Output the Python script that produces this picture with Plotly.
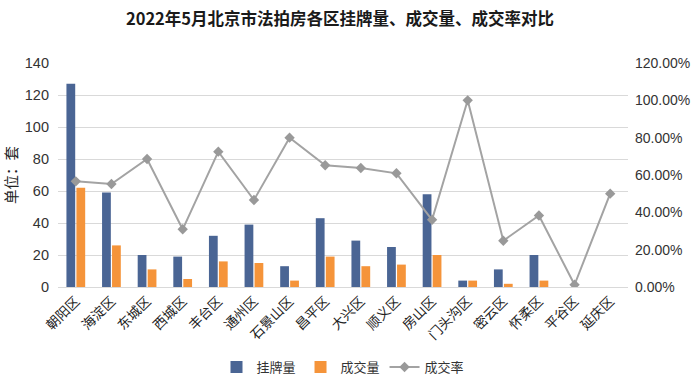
import plotly.graph_objects as go

districts = ["朝阳区", "海淀区", "东城区", "西城区", "丰台区", "通州区", "石景山区", "昌平区",
             "大兴区", "顺义区", "房山区", "门头沟区", "密云区", "怀柔区", "平谷区", "延庆区"]
listings = [127, 59, 20, 19, 32, 39, 13, 43, 29, 25, 58, 4, 11, 20, 0, 0]
deals = [62, 26, 11, 5, 16, 15, 4, 19, 13, 14, 20, 4, 2, 4, 0, 0]
rate = [0.566, 0.552, 0.686, 0.309, 0.725, 0.466, 0.80, 0.652, 0.6375, 0.609, 0.36, 1.0,
        0.248, 0.383, 0.012, 0.50]

FONT = "Noto Sans CJK SC, Microsoft YaHei, sans-serif"

fig = go.Figure()
fig.add_trace(go.Bar(x=districts, y=listings, name="挂牌量",
                     marker=dict(color="#4a6594", line=dict(width=0))))
fig.add_trace(go.Bar(x=districts, y=deals, name="成交量",
                     marker=dict(color="#f5943a", line=dict(width=0))))
fig.add_trace(go.Scatter(x=districts, y=rate, name="成交率", yaxis="y2",
                         mode="lines+markers",
                         line=dict(color="#a3a3a3", width=2),
                         marker=dict(symbol="diamond", size=8, color="#999999")))

fig.update_layout(
    width=700, height=385, autosize=False,
    paper_bgcolor="white", plot_bgcolor="white",
    margin=dict(l=58, r=72, t=63, b=98),
    title=dict(text="<b>2022年5月北京市法拍房各区挂牌量、成交量、成交率对比</b>",
               x=340 / 700, xanchor="center", y=1 - 19 / 385, yanchor="middle",
               font=dict(family=FONT, size=16.5, color="#1a1a1a")),
    font=dict(family=FONT, color="#333333"),
    barmode="group", bargap=0.44, bargroupgap=0.12,
    showlegend=True,
    legend=dict(orientation="h", x=0.5, xanchor="center",
                yref="container", y=1 - 367 / 385, yanchor="middle",
                font=dict(size=13, color="#333333"), itemwidth=30, traceorder="normal"),
    xaxis=dict(tickangle=-45, tickfont=dict(size=13.5, color="#222222"),
               showgrid=False, showline=True, linecolor="#d9d9d9", ticks="",
               range=[-0.5, 15.5], automargin=False),
    yaxis=dict(range=[0, 140], dtick=20, gridcolor="#d9d9d9", gridwidth=1,
               tickfont=dict(size=14.5, color="#333333", family="Liberation Sans, Arial"),
               zeroline=False, automargin=False, ticklabelstandoff=8,
               title=dict(text="单位：套", font=dict(size=14.5, color="#222222"), standoff=3)),
    yaxis2=dict(range=[0, 1.2], dtick=0.2, tickformat=".2%", overlaying="y", side="right",
                showgrid=False, zeroline=False, automargin=False, ticklabelstandoff=6,
                tickfont=dict(size=14, color="#333333", family="Liberation Sans, Arial")),
)

fig.write_html("out.html", config={"responsive": False, "displayModeBar": False})

with open("out.html", "r", encoding="utf-8") as f:
    html = f.read()
html = html.replace("<head>", "<head><style>html,body{margin:0;padding:0;overflow:hidden;}</style>", 1)
with open("out.html", "w", encoding="utf-8") as f:
    f.write(html)
